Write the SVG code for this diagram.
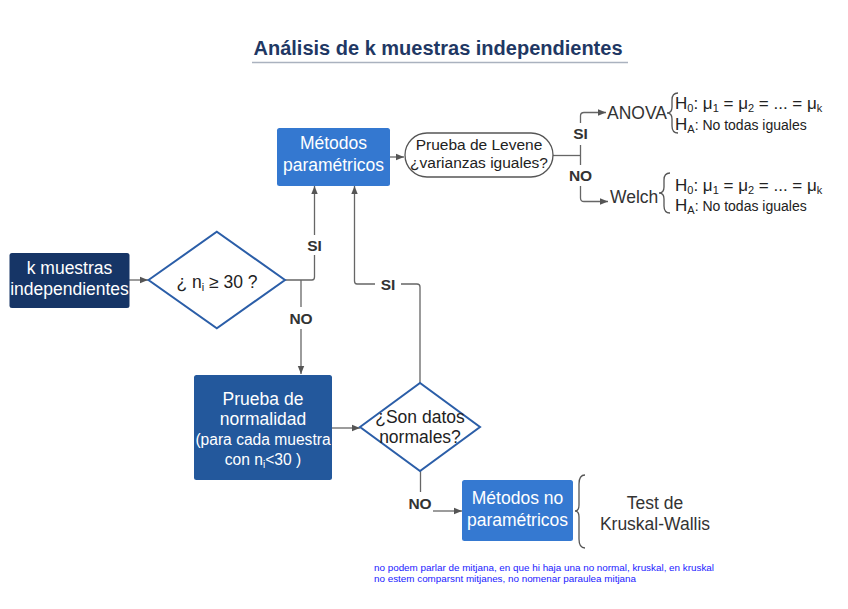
<svg xmlns="http://www.w3.org/2000/svg" width="848" height="609" viewBox="0 0 848 609">
<defs>
<marker id="ah" viewBox="0 0 10 10" refX="10" refY="5" markerWidth="8" markerHeight="8" markerUnits="userSpaceOnUse" orient="auto">
<path d="M0,1 L10,5 L0,9 Z" fill="#555"/>
</marker>
<style>
.t{font-family:"Liberation Sans",Arial,sans-serif}
.w{fill:#fff;font-size:17.5px;text-anchor:middle}
.ws{font-size:15.6px}
.k{fill:#222;text-anchor:middle}
.lab{font-family:"Liberation Sans",Arial,sans-serif;font-weight:bold;font-size:15.5px;fill:#333;text-anchor:middle}
.c{fill:none;stroke:#666;stroke-width:1.3}
.ca{fill:none;stroke:#666;stroke-width:1.3;marker-end:url(#ah)}
.dm{fill:#fff;stroke:#2b5ea8;stroke-width:2}
.br{fill:none;stroke:#555;stroke-width:1.3}
.h{fill:#222;font-size:17px}
</style>
</defs>
<rect width="848" height="609" fill="#fff"/>
<g id="title">
<text class="t" x="438" y="55" text-anchor="middle" font-size="20" font-weight="bold" fill="#1f3864">Análisis de k muestras independientes</text>
<line x1="252" y1="62.5" x2="628" y2="62.5" stroke="#aab2bf" stroke-width="1.5"/>
</g>
<g id="connectors">
<line class="ca" x1="129" y1="280" x2="148" y2="280"/>
<path class="c" d="M285,280 H312 Q314.5,280 314.5,277 V255"/>
<line class="ca" x1="314.5" y1="235" x2="314.5" y2="186"/>
<line class="c" x1="301" y1="280" x2="301" y2="307"/>
<line class="ca" x1="301" y1="329" x2="301" y2="374"/>
<line class="ca" x1="390" y1="157" x2="404" y2="157"/>
<line class="ca" x1="332" y1="428" x2="360" y2="428"/>
<path class="c" d="M420,383 V287 Q420,284 417,284 H401"/>
<path class="ca" d="M375,284 H357 Q354.5,284 354.5,281 V186"/>
<path class="c" d="M553,155.5 H580.5"/>
<path class="ca" d="M580.5,123 V116 Q580.5,112.5 584,112.5 H606"/>
<line class="c" x1="580.5" y1="145" x2="580.5" y2="165"/>
<path class="ca" d="M580.5,186 V198 Q580.5,201.5 584,201.5 H608"/>
<line class="c" x1="420.5" y1="471" x2="420.5" y2="492"/>
<line class="ca" x1="433" y1="511" x2="462" y2="511"/>
<text class="lab" x="314.5" y="251">SI</text>
<text class="lab" x="301" y="324">NO</text>
<text class="lab" x="388" y="289.5">SI</text>
<text class="lab" x="580.5" y="139">SI</text>
<text class="lab" x="580.5" y="181">NO</text>
<text class="lab" x="420" y="509">NO</text>
</g>
<g id="k-muestras">
<rect x="9.5" y="253" width="120" height="55" rx="2.5" fill="#163566"/>
<text class="t w" x="69.5" y="274">k muestras</text>
<text class="t w" x="69.5" y="295">independientes</text>
</g>
<g id="n-mayor-30">
<polygon class="dm" points="148.5,280 216.8,231.8 285,280 216.8,328.2"/>
<text class="t k" x="217" y="288" font-size="17.5">¿ n<tspan font-size="11" dy="3">i</tspan><tspan dy="-3"> ≥ 30 ?</tspan></text>
</g>
<g id="metodos-parametricos">
<rect x="277" y="128" width="113" height="58" rx="2.5" fill="#3478d0"/>
<text class="t w" x="333.5" y="149">Métodos</text>
<text class="t w" x="333.5" y="171">paramétricos</text>
</g>
<g id="levene">
<rect x="405" y="133" width="148" height="44" rx="22" fill="#fff" stroke="#555" stroke-width="1.3"/>
<text class="t k" x="479" y="150" font-size="15.5">Prueba de Levene</text>
<text class="t k" x="479" y="168" font-size="15.5">¿varianzas iguales?</text>
</g>
<g id="anova">
<text class="t" x="607" y="119" font-size="17.5" fill="#333">ANOVA</text>
<path class="br" d="M678,93 Q672,93 672,100 V107 Q672,113 667,113 Q672,113 672,119 V126 Q672,133 678,133"/>
<text class="t h" x="675" y="109">H<tspan font-size="11" dy="3">0</tspan><tspan dy="-3">: μ</tspan><tspan font-size="11" dy="3">1</tspan><tspan dy="-3"> = μ</tspan><tspan font-size="11" dy="3">2</tspan><tspan dy="-3"> = ... = μ</tspan><tspan font-size="11" dy="3">k</tspan></text>
<text class="t h" x="675" y="130">H<tspan font-size="11" dy="3">A</tspan><tspan dy="-3" font-size="14">: No todas iguales</tspan></text>
</g>
<g id="welch">
<text class="t" x="610" y="203" font-size="17.5" fill="#333">Welch</text>
<path class="br" d="M670,173 Q664,173 664,180 V187 Q664,193 659,193 Q664,193 664,199 V206 Q664,213 670,213"/>
<text class="t h" x="675" y="191">H<tspan font-size="11" dy="3">0</tspan><tspan dy="-3">: μ</tspan><tspan font-size="11" dy="3">1</tspan><tspan dy="-3"> = μ</tspan><tspan font-size="11" dy="3">2</tspan><tspan dy="-3"> = ... = μ</tspan><tspan font-size="11" dy="3">k</tspan></text>
<text class="t h" x="675" y="211">H<tspan font-size="11" dy="3">A</tspan><tspan dy="-3" font-size="14">: No todas iguales</tspan></text>
</g>
<g id="prueba-normalidad">
<rect x="194" y="375" width="138" height="105" rx="2.5" fill="#23589c"/>
<text class="t w" x="263" y="405">Prueba de</text>
<text class="t w" x="263" y="425">normalidad</text>
<text class="t w ws" x="263" y="445">(para cada muestra</text>
<text class="t w ws" x="263" y="465">con n<tspan font-size="10" dy="3">i</tspan><tspan dy="-3">&lt;30 )</tspan></text>
</g>
<g id="datos-normales">
<polygon class="dm" points="360,427 420,383 480,427 420,471"/>
<text class="t k" x="420" y="423" font-size="17.5">¿Son datos</text>
<text class="t k" x="420" y="443" font-size="17.5">normales?</text>
</g>
<g id="metodos-no-parametricos">
<rect x="462" y="480" width="111" height="61" rx="2.5" fill="#3579d1"/>
<text class="t w" x="517.5" y="504">Métodos no</text>
<text class="t w" x="517.5" y="526">paramétricos</text>
</g>
<g id="kruskal">
<path class="br" d="M585,475 Q579,475 579,484 V505 Q579,511 575,511 Q579,511 579,517 V539 Q579,548 585,548"/>
<text class="t" x="655" y="509" font-size="17.5" fill="#333" text-anchor="middle">Test de</text>
<text class="t" x="655" y="530" font-size="17.5" fill="#333" text-anchor="middle">Kruskal-Wallis</text>
</g>
<g id="nota">
<text class="t" x="374" y="571" font-size="9.5" fill="#1a1aff" textLength="340" lengthAdjust="spacingAndGlyphs">no podem parlar de mitjana, en que hi haja una no normal, kruskal, en kruskal</text>
<text class="t" x="374" y="582" font-size="9.5" fill="#1a1aff" textLength="262" lengthAdjust="spacingAndGlyphs">no estem comparsnt mitjanes, no nomenar paraulea mitjana</text>
</g>
</svg>
